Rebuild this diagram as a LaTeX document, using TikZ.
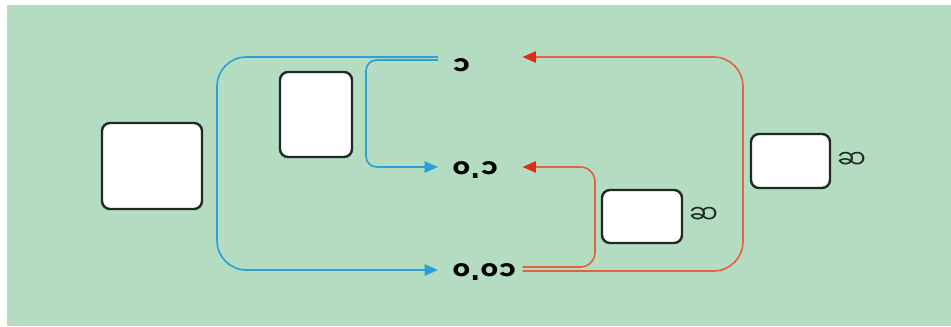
\documentclass[tikz,border=0pt]{standalone}
\usepackage{fontspec}
\newfontfamily\mya[Script=Myanmar]{Noto Sans Myanmar UI}
\newfontfamily\dotfont{DejaVu Sans}
\newcommand{\pt}{{\dotfont\bfseries .}}
\usetikzlibrary{arrows.meta,positioning}
\definecolor{leaf}{HTML}{B3DCC0}
\definecolor{sky}{HTML}{2B9FDA}
\definecolor{rust}{HTML}{E2623F}
\definecolor{flame}{HTML}{E4281C}
\definecolor{ink}{HTML}{1F2A24}

\begin{document}
\begin{tikzpicture}[x=0.75pt,y=-0.75pt,
blank/.style={draw=ink,line width=1.8pt,rounded corners=6pt,fill=white,inner sep=0pt},
lab/.style={anchor=west,text width=42pt,align=left,inner xsep=10.5pt,font=\mya\bfseries\fontsize{19.5}{22}\selectfont},
times/.style={anchor=west,inner sep=0pt,text=ink,font=\mya\fontsize{19}{22}\selectfont},
barr/.style={-{Triangle[length=10pt,width=8.5pt]},line width=1.2pt,color=sky},
rarr/.style={-{Triangle[length=10pt,width=8.5pt,color=flame]},line width=1.2pt,color=rust}
]
\useasboundingbox (0,0) rectangle (951,326);
\fill[leaf] (7,5) rectangle (951,326);
% boxes to fill in
\node[blank,minimum width=75pt,minimum height=64.5pt] (whole) at (152,166) {};
\node[blank,minimum width=54pt,minimum height=63.75pt] (tenth) at (316,114.5) {};
\node[blank,minimum width=60pt,minimum height=39.75pt] (small) at (642,216.5) {};
\node[blank,minimum width=59.25pt,minimum height=40.5pt] (big) at (790.5,161) {};
\node[times] (xsmall) at (689,215) {ဆ};
\node[times] (xbig) at (837,160) {ဆ};
% values
\node[lab] (one) at (438,67) {၁};
\node[lab] (dec) at (438,170) {၀\pt၁};
\node[lab] (cent) at (438,272) {၀\pt၀၁};
\coordinate (bout) at (217,166);
\coordinate (bin) at (366,110);
\coordinate (rin) at (595,220);
\coordinate (rout) at (743,160);
\draw[barr,rounded corners=22pt] ([yshift=7.5pt]one.west) -| (bout) |- ([yshift=1.5pt]cent.west);
\draw[barr,rounded corners=8pt] ([yshift=5.25pt]one.west) -| (bin) |- ([yshift=2.25pt]dec.west);
\draw[rarr,rounded corners=11pt] ([yshift=3.75pt]cent.east) -| (rin) |- ([yshift=2.25pt]dec.east);
\draw[rarr,rounded corners=22pt] ([yshift=0.75pt]cent.east) -| (rout) |- ([yshift=7.5pt]one.east);
\end{tikzpicture}
\end{document}
